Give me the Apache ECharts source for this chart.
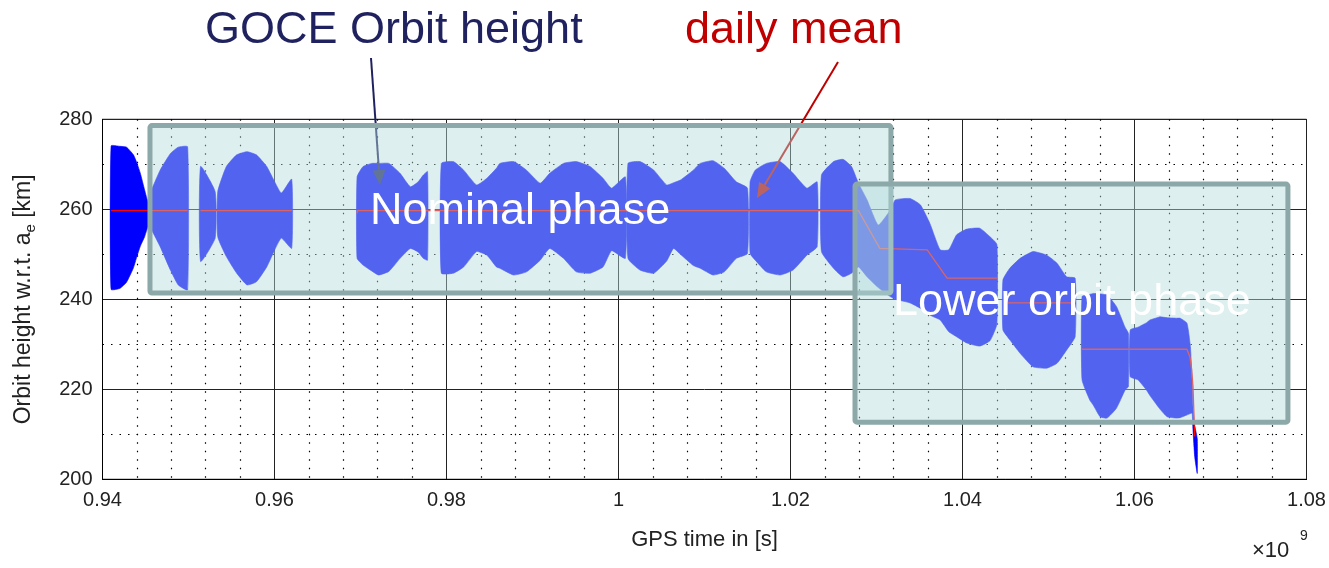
<!DOCTYPE html>
<html><head><meta charset="utf-8">
<script src="https://cdn.jsdelivr.net/npm/echarts@6/dist/echarts.min.js"></script>
<style>html,body{margin:0;padding:0;background:#fff}#c{width:1329px;height:568px}</style>
</head><body><div id="c"></div>
<script>
const FONT = '"Liberation Sans", Arial, Helvetica, sans-serif';

// axis ranges (x in units of 1e9 s)
const xRange = [0.94, 1.08];
const yRange = [200, 280];

// orbit height envelope (null = data gap)
const bandT = [
  0.9410,0.9420,0.9428,0.9436,0.9440,0.9444,0.9449,0.9453,0.9457,0.9467,0.9479,0.9488,0.9499, null,
  0.9514,0.9531, null,
  0.9534,0.9544,0.9556,0.9568,0.9579,0.9591,0.9601,0.9608,0.9620, null,
  0.9696,0.9703,0.9713,0.9721,0.9733,0.9746,0.9758,0.9767,0.9773,0.9778, null,
  0.9794,0.9808,0.9820,0.9835,0.9847,0.9858,0.9862,0.9878,0.9893,0.9909,0.9920,0.9936,0.9951,0.9967,0.9982,0.9992,1.0008, null,
  1.0011,1.0025,1.0041,1.0056,1.0064,1.0072,1.0087,1.0095,1.0110,1.0123,1.0137,1.0150, null,
  1.0153,1.0159,1.0172,1.0188,1.0203,1.0219,1.0231, null,
  1.0236,1.0250,1.0261,1.0271,1.0279,1.0289,1.0302,1.0316,1.0322,1.0339,1.0351,1.0362,1.0374,1.0384,1.0393,1.0405,1.0420,1.0432,1.0440, null,
  1.0447,1.0455,1.0467,1.0482,1.0498,1.0510,1.0521,1.0531, null,
  1.0539,1.0548,1.0552,1.0560,1.0568,1.0579,1.0589,1.0593, null,
  1.0595,1.0604,1.0614,1.0618,1.0626,1.0630,1.0638,1.0649,1.0653,1.0661,1.0665,1.0667,1.0668,1.0670,1.0673
];
const bandLo = [
  242.2,242.4,243.8,247.0,249.5,251.8,253.9,256.1,255.4,251.7,246.5,243.2,242.1, null,
  248.4,253.6, null,
  253.9,249.5,245.8,243.2,243.9,247.2,251.3,253.6,251.3, null,
  249.1,247.6,246.3,245.4,246.2,249.1,251.3,250.5,249.1,248.7, null,
  245.8,245.8,247.2,250.6,249.8,247.2,246.9,245.4,246.1,248.7,251.3,249.1,246.1,245.8,247.2,250.8,249.1, null,
  249.1,246.5,245.8,248.5,251.3,250.0,247.5,246.9,245.4,246.1,249.1,250.2, null,
  250.2,248.7,246.1,245.4,246.5,249.8,251.7, null,
  250.6,246.9,245.0,245.8,247.2,245.0,242.6,240.6,240.0,239.2,238.0,236.5,235.4,232.8,231.7,230.3,229.6,230.8,234.5, null,
  233.2,231.0,228.0,225.0,224.7,225.8,228.7,231.7, null,
  222.1,217.6,216.5,213.9,213.6,215.8,219.8,220.6, null,
  222.8,222.1,219.8,218.6,216.5,215.5,213.9,213.6,213.7,214.3,214.6,214.7,211.0,205.0,201.3
];
const bandHi = [
  274.1,274.0,273.8,272.1,270.3,268.0,264.3,261.7,264.3,268.7,272.4,273.8,273.9, null,
  269.5,263.9, null,
  263.9,269.5,272.1,272.8,272.1,269.5,265.8,263.6,266.7, null,
  267.2,269.5,270.2,270.2,270.2,268.0,265.0,266.1,267.6,268.4, null,
  270.2,270.6,268.7,265.4,266.9,269.1,270.2,270.6,268.7,265.8,268.0,270.2,270.6,269.5,266.9,264.7,267.2, null,
  270.2,270.6,268.7,265.4,265.9,266.5,268.7,270.2,270.8,269.1,266.1,264.7, null,
  266.1,268.7,270.2,270.6,268.0,264.7,266.1, null,
  267.6,270.6,271.1,269.5,265.8,262.1,256.5,259.8,262.1,262.4,261.0,256.9,251.0,251.0,254.3,255.6,255.8,253.9,252.2, null,
  244.3,246.9,249.1,250.6,249.8,248.0,245.0,244.7, null,
  240.6,241.1,241.3,241.2,241.0,238.4,233.8,232.4, null,
  233.2,233.8,234.8,235.4,235.9,236.1,235.9,235.8,235.8,234.7,229.5,222.0,216.0,212.0,209.0
];

// daily mean (null = gap)
const meanT = [0.9410,0.9499,null,0.9514,0.9620,null,0.9696,0.96965,1.0279,1.0304,1.0359,1.0382,1.0440,null,
  1.0450,1.0530,null,1.0539,1.0661,1.06645,1.06665,1.0668,1.0670];
const meanV = [259.7,259.7,null,259.7,259.7,null,259.1,259.7,259.7,251.3,251.0,244.7,244.7,null,
  239.2,239.2,null,228.9,228.9,227.2,224.3,220.6,209.5];

// phase boxes (data coordinates)
const boxT0 = [0.94552, 1.02750];
const boxT1 = [1.03168, 1.07784];
const boxV0 = [241.4, 212.7];
const boxV1 = [278.6, 265.6];
const boxLabels = ['Nominal phase', 'Lower orbit phase'];

// split band into contiguous segments
const segs = [];
(function(){ let cur = []; for (let i = 0; i < bandT.length; i++) { if (bandT[i] === null) { if (cur.length) segs.push(cur); cur = []; } else cur.push(i); } if (cur.length) segs.push(cur); })();

const meanData = meanT.map((t, i) => t === null ? [meanT[i-1], '-'] : [t, meanV[i]]);

const chart = echarts.init(document.getElementById('c'));

function arrow(x1, y1, x2, y2, color, z) {
  const ang = Math.atan2(y2 - y1, x2 - x1), L = 15, W = 6.5;
  const bx = x2 - L * Math.cos(ang), by = y2 - L * Math.sin(ang);
  const nx = -Math.sin(ang), ny = Math.cos(ang);
  return [
    { type: 'line', z: z, silent: true, shape: { x1: x1, y1: y1, x2: bx, y2: by }, style: { stroke: color, lineWidth: 2 } },
    { type: 'polygon', z: z, silent: true, shape: { points: [[x2, y2], [bx + nx * W, by + ny * W], [bx - nx * W, by - ny * W]] }, style: { fill: color } }
  ];
}

const option = {
  animation: false,
  backgroundColor: '#fff',
  grid: { left: 102.5, top: 119.3, width: 1204, height: 360, show: true, borderColor: '#000', borderWidth: 1, backgroundColor: 'transparent' },
  xAxis: {
    type: 'value', min: xRange[0], max: xRange[1], interval: 0.02,
    name: 'GPS time in [s]', nameLocation: 'middle', nameGap: 50,
    nameTextStyle: { fontFamily: FONT, fontSize: 22, color: '#222' },
    axisLine: { show: true, lineStyle: { color: '#000', width: 1 } },
    axisTick: { show: false },
    axisLabel: { fontFamily: FONT, fontSize: 20, color: '#222', margin: 11, formatter: v => String(+v.toFixed(2)) },
    splitLine: { show: true, lineStyle: { color: '#222', width: 1 } },
    minorTick: { show: false, splitNumber: 5 },
    minorSplitLine: { show: true, lineStyle: { color: '#000', width: 1.2, type: [1.5, 7] } }
  },
  yAxis: {
    type: 'value', min: yRange[0], max: yRange[1], interval: 20,
    name: '{a|Orbit height w.r.t. a}{s|e}{a| [km]}', nameLocation: 'middle', nameGap: 64,
    nameTextStyle: { rich: {
      a: { fontFamily: FONT, fontSize: 23, color: '#222', lineHeight: 30, verticalAlign: 'middle' },
      s: { fontFamily: FONT, fontSize: 15, color: '#222', lineHeight: 12, verticalAlign: 'bottom' }
    } },
    axisLine: { show: true, lineStyle: { color: '#000', width: 1 } },
    axisTick: { show: false },
    axisLabel: { fontFamily: FONT, fontSize: 20, color: '#222', margin: 10 },
    splitLine: { show: true, lineStyle: { color: '#222', width: 1 } },
    minorTick: { show: false, splitNumber: 2 },
    minorSplitLine: { show: true, lineStyle: { color: '#000', width: 1.2, type: [1.5, 7] } }
  },
  series: [
    {
      type: 'custom', name: 'GOCE orbit height', coordinateSystem: 'cartesian2d', z: 2, silent: true,
      data: segs.map((s, k) => [bandT[s[0]], bandLo[s[0]], k]),
      encode: { x: 0, y: 1 },
      renderItem: function (params, api) {
        const s = segs[params.dataIndex];
        const pts = [];
        s.forEach(i => pts.push(api.coord([bandT[i], bandHi[i]])));
        for (let j = s.length - 1; j >= 0; j--) pts.push(api.coord([bandT[s[j]], bandLo[s[j]]]));
        return { type: 'polygon', shape: { points: pts, smooth: 0.15 }, style: { fill: '#0000ff', stroke: '#0000ff', lineWidth: 0.6 } };
      }
    },
    {
      type: 'line', name: 'daily mean', z: 3, silent: true, showSymbol: false, connectNulls: false,
      data: meanData, lineStyle: { color: '#ff0000', width: 1.3 }, itemStyle: { color: '#ff0000' }
    },
    {
      type: 'custom', name: 'phases', coordinateSystem: 'cartesian2d', z: 5, silent: true,
      data: boxT0.map((t, i) => [t, boxV0[i], i]),
      encode: { x: 0, y: 1 },
      renderItem: function (params, api) {
        const i = params.dataIndex;
        const p0 = api.coord([boxT0[i], boxV1[i]]);
        const p1 = api.coord([boxT1[i], boxV0[i]]);
        return { type: 'rect', shape: { x: p0[0], y: p0[1], width: p1[0] - p0[0], height: p1[1] - p0[1], r: 2 },
          style: { fill: 'rgba(179,219,219,0.45)', stroke: '#8ca8a8', lineWidth: 5 } };
      }
    }
  ],
  graphic: [
    ...arrow(371, 58, 380, 185, '#1f225e', 4),
    ...arrow(838, 62, 757, 198, '#c00000', 4),
    { type: 'text', z: 20, silent: true, left: 205, top: 8, style: { text: 'GOCE Orbit height', font: '45px ' + FONT, fill: '#1f225e' } },
    { type: 'text', z: 20, silent: true, left: 685, top: 8, style: { text: 'daily mean', font: '45px ' + FONT, fill: '#c00000' } },
    { type: 'text', z: 20, silent: true, left: 370, top: 189, style: { text: boxLabels[0], font: '45px ' + FONT, fill: '#ffffff' } },
    { type: 'text', z: 20, silent: true, left: 893, top: 280, style: { text: boxLabels[1], font: '45px ' + FONT, fill: '#ffffff' } },
    { type: 'text', z: 20, silent: true, left: 1252, top: 540, style: { text: '×10', font: '22px ' + FONT, fill: '#222' } },
    { type: 'text', z: 20, silent: true, left: 1300, top: 529, style: { text: '9', font: '14px ' + FONT, fill: '#222' } }
  ]
};
chart.setOption(option);
</script>
</body></html>
